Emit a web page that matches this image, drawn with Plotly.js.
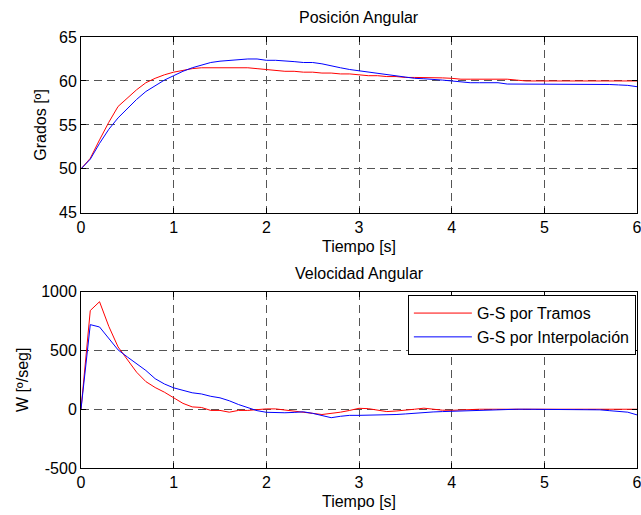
<!DOCTYPE html>
<html>
<head>
<meta charset="utf-8">
<script src="https://cdn.plot.ly/plotly-3.0.1.min.js"></script>
<style>
  html, body { margin: 0; padding: 0; background: #ffffff; }
  #chart { width: 641px; height: 515px; }
</style>
</head>
<body>
<div id="chart"></div>
<script>
// Time samples [s]
const tiempo = [
  0.0, 0.1, 0.2, 0.3, 0.4, 0.5, 0.6, 0.7, 0.8, 0.9,
  1.0, 1.1, 1.2, 1.3, 1.4, 1.5, 1.6, 1.7, 1.8, 1.9,
  2.0, 2.1, 2.2, 2.3, 2.4, 2.5, 2.6, 2.7, 2.8, 2.9,
  3.0, 3.1, 3.2, 3.3, 3.4, 3.5, 3.6, 3.7, 3.8, 3.9,
  4.0, 4.1, 4.2, 4.3, 4.4, 4.5, 4.6, 4.7, 4.8, 4.9,
  5.0, 5.1, 5.2, 5.3, 5.4, 5.5, 5.6, 5.7, 5.8, 5.9,
  6.0
];

// Angular position [deg]
const posTramos = [
  50.0, 51.2, 53.3, 55.3, 57.1, 58.1, 59.0, 59.8, 60.3, 60.7,
  61.0, 61.2, 61.4, 61.5, 61.5, 61.5, 61.5, 61.5, 61.5, 61.4,
  61.3, 61.2, 61.1, 61.1, 61.0, 61.0, 60.9, 60.9, 60.8, 60.8,
  60.7, 60.6, 60.6, 60.5, 60.5, 60.4, 60.4, 60.4, 60.35, 60.35,
  60.3, 60.2, 60.2, 60.2, 60.2, 60.2, 60.2, 60.1, 60.0, 60.0,
  60.0, 60.0, 60.0, 60.0, 60.0, 60.0, 60.0, 60.0, 60.0, 60.0,
  60.0
];
const posInterp = [
  50.0, 51.1, 52.9, 54.5, 55.8, 56.9, 57.9, 58.8, 59.5, 60.1,
  60.6, 61.1, 61.5, 61.8, 62.1, 62.25, 62.35, 62.4, 62.5, 62.5,
  62.35, 62.35, 62.3, 62.2, 62.1, 62.1, 61.95, 61.7, 61.5, 61.3,
  61.15, 61.0, 60.9, 60.7, 60.55, 60.4, 60.3, 60.25, 60.2, 60.1,
  60.0, 59.9, 59.8, 59.8, 59.8, 59.8, 59.65, 59.65, 59.65, 59.65,
  59.65, 59.65, 59.65, 59.65, 59.65, 59.65, 59.65, 59.6, 59.55, 59.5,
  59.35
];

// Angular velocity [deg/s]
const velTramos = [
  0, 840, 915, 705, 530, 425, 315, 235, 185, 145,
  100, 50, 20, 15, -10, -10, -25, -10, -10, -3,
  3, 3, -8, -15, -25, -35, -45, -38, -25, -10,
  8, 5, -10, -20, -15, -10, 0, 9, 0, -8,
  -9, -5, -2, 0, 0, 0, 0, 0, 0, 0,
  0, 0, 0, 0, 0, 0, 0, 0, 0, 0,
  0
];
const velInterp = [
  0, 720, 700, 600, 505, 445, 385, 330, 260, 215,
  182, 160, 140, 130, 110, 97, 72, 40, 12, -12,
  -26, -30, -30, -27, -22, -35, -55, -72, -60, -52,
  -52, -51, -51, -51, -45, -40, -33, -28, -23, -20,
  -17, -13, -10, -8, -5, -3, 0, 0, 0, 0,
  0, 0, 0, 0, 0, 0, -5, -12, -18, -25,
  -48
];

const nombreTramos = 'G-S por Tramos';
const nombreInterp = 'G-S por Interpolación';
const ticksTiempo = [0, 1, 2, 3, 4, 5, 6];
const ticksGrados = [45, 50, 55, 60, 65];
const ticksVel = [-500, 0, 500, 1000];

const FONT = 'Liberation Sans, Arial, Helvetica, sans-serif';
const ROJO = '#ff0000';
const AZUL = '#0000ff';

const data = [
  { x: tiempo, y: posTramos, name: nombreTramos, showlegend: false,
    type: 'scatter', mode: 'lines', line: { color: ROJO, width: 1 }, xaxis: 'x', yaxis: 'y' },
  { x: tiempo, y: posInterp, name: nombreInterp, showlegend: false,
    type: 'scatter', mode: 'lines', line: { color: AZUL, width: 1 }, xaxis: 'x', yaxis: 'y' },
  { x: tiempo, y: velTramos, name: nombreTramos,
    type: 'scatter', mode: 'lines', line: { color: ROJO, width: 1 }, xaxis: 'x2', yaxis: 'y2' },
  { x: tiempo, y: velInterp, name: nombreInterp,
    type: 'scatter', mode: 'lines', line: { color: AZUL, width: 1 }, xaxis: 'x2', yaxis: 'y2' }
];

function ejeX(anchor) {
  return {
    anchor: anchor, range: [-0.0001, 6.0001], tickvals: ticksTiempo, ticktext: ticksTiempo.map(String),
    ticklabeloverflow: 'allow',
    showline: true, linecolor: '#000', linewidth: 1, mirror: 'allticks',
    ticks: 'inside', ticklen: 5, tickcolor: '#000',
    showgrid: true, gridcolor: '#555', gridwidth: 1, griddash: '8px,5px',
    zeroline: false, fixedrange: true,
    title: { text: 'Tiempo [s]', font: { size: 16, color: '#000' }, standoff: 5 }
  };
}

function ejeY(anchor, domain, range, vals, titulo) {
  return {
    anchor: anchor, domain: domain, range: range, tickvals: vals, ticktext: vals.map(String),
    showline: true, linecolor: '#000', linewidth: 1, mirror: 'allticks',
    ticks: 'inside', ticklen: 5, tickcolor: '#000',
    showgrid: true, gridcolor: '#555', gridwidth: 1, griddash: '8px,5px',
    zeroline: false, fixedrange: true,
    title: { text: titulo, font: { size: 16, color: '#000' }, standoff: 8 }
  };
}

const layout = {
  width: 641, height: 515,
  margin: { l: 81, r: 4, t: 37, b: 47, pad: 0 },
  paper_bgcolor: '#ffffff', plot_bgcolor: '#ffffff',
  font: { family: FONT, size: 16, color: '#000' },
  showlegend: true,
  legend: {
    x: 0.998, xanchor: 'right', y: 0.401, yanchor: 'top',
    bgcolor: '#ffffff', bordercolor: '#000', borderwidth: 1,
    tracegroupgap: 0, itemwidth: 58,
    font: { family: FONT, size: 16, color: '#000' }
  },
  xaxis: ejeX('y'),
  yaxis: ejeY('x', [0.592, 1], [45, 65], ticksGrados, 'Grados [º]'),
  xaxis2: ejeX('y2'),
  yaxis2: ejeY('x2', [0, 0.409], [-500, 1000], ticksVel, 'W [º/seg]'),
  annotations: [
    { text: 'Posición Angular', xref: 'paper', yref: 'paper', x: 0.5, y: 1,
      yanchor: 'bottom', yshift: 9, showarrow: false, font: { size: 16, color: '#000' } },
    { text: 'Velocidad Angular', xref: 'paper', yref: 'paper', x: 0.5, y: 0.409,
      yanchor: 'bottom', yshift: 8, showarrow: false, font: { size: 16, color: '#000' } }
  ]
};

Plotly.newPlot('chart', data, layout, { displayModeBar: false, staticPlot: true });
</script>
</body>
</html>
